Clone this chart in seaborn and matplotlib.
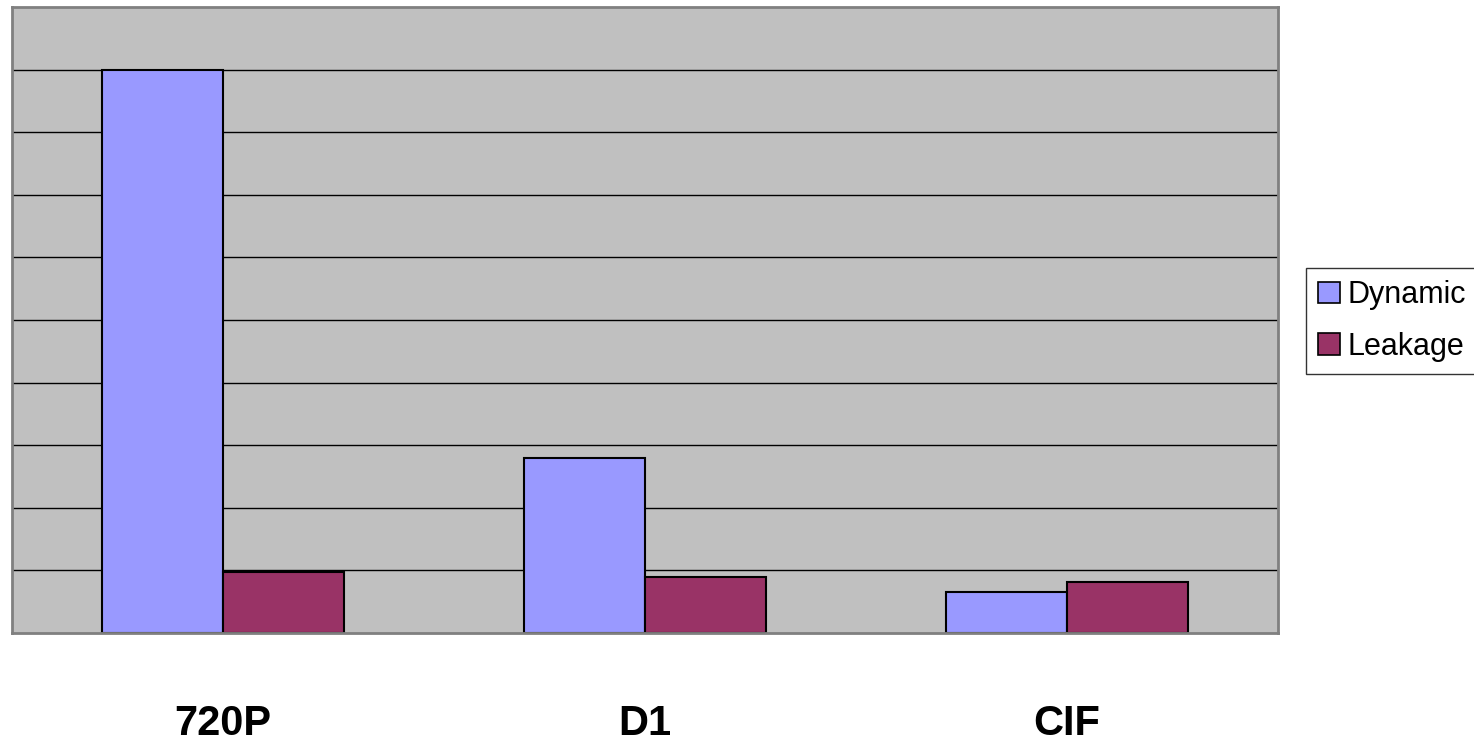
import matplotlib
matplotlib.use("Agg")
import matplotlib.pyplot as plt
import seaborn as sns
import pandas as pd

# Power breakdown per video format
categories = ["720P", "D1", "CIF"]
dynamic = [9.0, 2.79, 0.66]
leakage = [0.98, 0.90, 0.81]
series = ["Dynamic", "Leakage"]
colors = ["#9999FF", "#993366"]

df = pd.DataFrame({
    "format": categories * 2,
    "value": dynamic + leakage,
    "kind": [series[0]] * len(categories) + [series[1]] * len(categories),
})

sns.set_theme(style="white")
plt.rcParams["font.family"] = ["Liberation Sans", "DejaVu Sans"]
plt.rcParams["text.color"] = "black"
plt.rcParams["xtick.color"] = "black"

fig = plt.figure(figsize=(14.74, 7.47), dpi=100)
ax = fig.add_axes([12 / 1474, 114 / 747, 1266 / 1474, 626 / 747])
ax.set_facecolor("#C0C0C0")

sns.barplot(data=df, x="format", y="value", hue="kind", order=categories,
            hue_order=series, palette=colors, width=0.574, gap=0,
            edgecolor="black", linewidth=1.5, saturation=1, ax=ax, legend=False)

ax.set_xlim(-0.5, 2.5)
ax.set_ylim(0, 10)
ax.set_yticks(range(1, 10))
ax.yaxis.grid(True, color="black", linewidth=1.0)
ax.set_axisbelow(True)
ax.tick_params(axis="y", left=False, labelleft=False)
ax.tick_params(axis="x", length=0, pad=51, labelcolor="black")
ax.set_xticks(range(len(categories)))
ax.set_xticklabels(categories, fontsize=30, fontweight="bold")
ax.set_xlabel("")
ax.set_ylabel("")
for sp in ax.spines.values():
    sp.set_color("#808080")
    sp.set_linewidth(2)

handles = [plt.Rectangle((0, 0), 1, 1, facecolor=c, edgecolor="black", linewidth=1.2)
           for c in colors]
leg = fig.legend(handles, series, loc="upper left",
                 bbox_to_anchor=(1306 / 1474, 1 - 268 / 747),
                 fontsize=22, frameon=True, fancybox=False,
                 handlelength=0.72, handleheight=0.72, handletextpad=0.25,
                 labelspacing=0.71, borderpad=0.4, borderaxespad=0)
leg.get_frame().set_edgecolor("black")
leg.get_frame().set_linewidth(1.0)
for t in leg.get_texts():
    t.set_color("black")

fig.savefig("out.png", dpi=100)
